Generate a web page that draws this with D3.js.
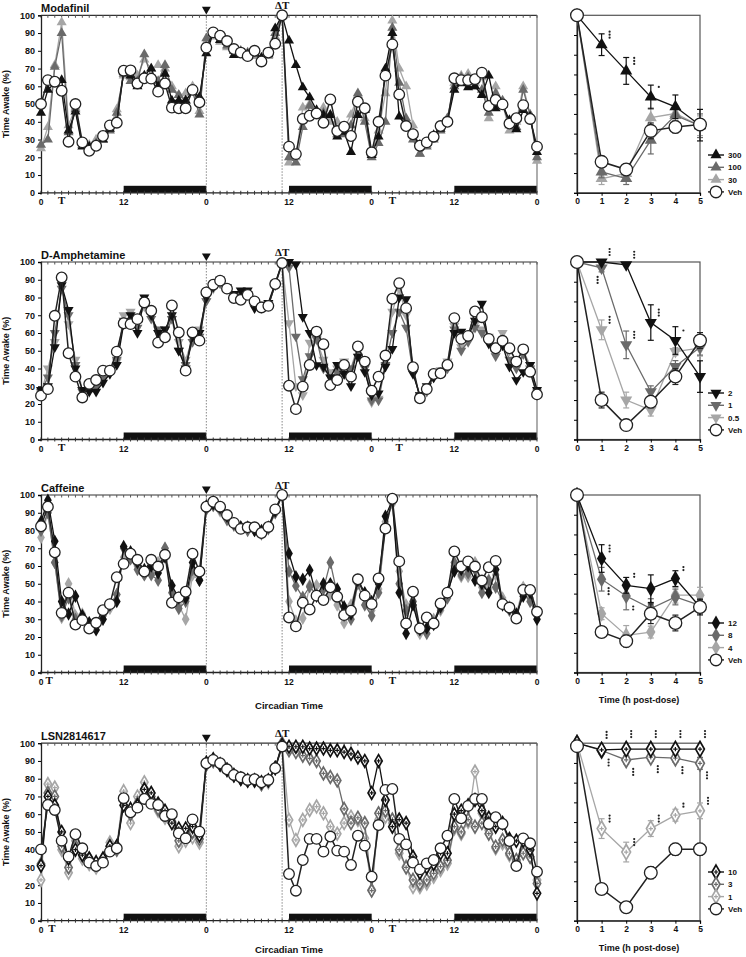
<!DOCTYPE html>
<html>
<head>
<meta charset="utf-8">
<style>
body { margin: 0; background: #fff; }
svg text { font-family: "Liberation Sans", Arial, sans-serif; font-weight: bold; fill: #111; }
svg text.serif { font-family: "Liberation Serif", "Times New Roman", serif; }
</style>
</head>
<body>
<script src="https://d3js.org/d3.v7.min.js"></script>
<script>

// ---------- data ----------
// hourly time courses, hour 0 .. 72
var modVeh = [50,63.5,62.6,57.5,28.8,50,28.4,23.7,26.5,32,38,39.5,
  68.8,69,61.6,64.5,64.3,57,61.6,48,47.6,47.6,58,51,
  81.8,90.4,88.5,85.5,81,79,77,80,74,79,84,100,
  26,21.8,41.6,43.4,44.7,39.5,52.6,34.8,37.2,32,51.3,47.6,
  22.8,40,66,83.6,55.4,37.6,33,26.5,28.4,31.6,37.6,40,
  64.5,63.5,63.5,64,67.7,48.9,52.3,49.8,39,42,49.4,41.6,
  26];
var mod300 = [45,58,62,63.5,35,45.7,26,26,27,30,36,40,
  68,66,60,66,70,60,67,52,52,52,57,54,
  78.5,90,86,85,77.6,79,78,79,76,78,92.7,100,
  85.7,72,59.4,53.8,46.6,43.8,43.8,31.6,34.4,23,43.8,46.6,
  21.2,31.6,70,90,43,37.6,33,27,28,32.5,36,40,
  58,61.6,59.4,60,55,66,47.6,49.4,41,35.7,46.6,43,
  23];
var mod100 = [27,30,71,90,34,47,27,25,28,30,35,45,
  67,63,63,78,65,63,72,58,55,52,57,44,
  87,89,86,83,80,80,79,78,76,78,90,100,
  20,17,37,49,44,45,44,33,33,38,56,40,
  20,28,40,93,62,42,30,22,26,30,35,42,
  60,65,65,60,58,45,56,52,38,37,58,44,
  20];
var mod30 = [25,37,72,96,38,48,28,27,30,32,37,47,
  66,65,66,75,70,72,70,60,55,56,60,46,
  85,88,85,82,80,79,78,77,75,77,88,100,
  17,20,48,50,44,48,40,40,36,44,55,42,
  22,35,56,97,70,60,38,22,27,31,37,42,
  62,66,67,62,65,42,60,50,35,40,60,44,
  18];

var ampVeh = [24.7,28.4,69.7,91.3,48.6,35.4,23.7,31.3,33.5,38.8,38.8,49.5,
  65.5,65,67.8,77.2,72.5,54.6,57.6,75.5,60.3,38.8,60.3,55.7,
  82.9,87.2,89.5,85,79.7,78.7,81.5,77.8,74.4,75.3,87.6,99.4,
  30.3,17.1,29.8,42,60.8,53.7,30.7,33.5,42,35.4,52.4,43.9,
  27.5,35.4,47.3,79.3,88.1,74,40.7,23.2,28.4,36.9,37.3,42,
  68.4,56.7,58.4,72.1,68.9,56.7,51.4,55.6,51.4,43.9,50.8,38.2,
  25.4];
var amp2 = [28,30,52,87,73,40,28,27,27,32,37,42,
  65,70,60,80,70,60,62,70,50,40,58,60,
  80,86,90,85,82,84,84,74,76,77,88,99.5,
  100,98.6,69,60,41.9,41,35,42,37,30,46.7,38,
  25,26,41,51,80,79,37,25,30,35,38,42,
  60,60.8,58,67,76.5,54,52,53,41,33.5,38,42,
  28];
var amp1 = [27,35,60,85,70,42,27,28,30,34,38,45,
  67,66,63,78,68,62,58,68,50,42,55,58,
  78,86,88,86,81,82,82,75,75,76,87,99,
  97,58,34,47,56.8,40,35,38,37,40,50,40,
  22,22,42,60,72,63,38,24,27,35,38,40,
  62,50,55,63,60,55,47,55,45,40,48,40,
  25];
var amp05 = [26,40,55,88,65,45,28,30,30,35,40,44,
  70,72,66,75,70,55,62,68,55,45,57,62,
  78,85,88,86,80,80,82,76,74,76,87,99,
  65.6,30,25,54.6,56.3,45,38,40,44,40,53,44,
  21,23,45,72,85,70,38,25,28,37,39,44,
  64,52,57,65,62,58,53,60,50,45,50,42,
  27];

var cafVeh = [82.4,93.4,67.7,33.6,45,27,29.5,24.8,28,35.1,38.5,53.7,
  61.2,66.9,63.5,56.9,63.5,59.7,66.3,39.3,42.3,45.5,66.9,56.9,
  93.4,96.2,93.4,88.7,84.3,80.9,81.8,81.8,78.6,82,91.9,100,
  31,26,39.3,35.5,43.3,40.8,48,42.7,32.3,34.8,52.5,43.3,
  38.5,53,81.1,97.9,62.6,27.6,45.5,24.8,31,27.6,38.9,45,
  68.2,59.7,62.6,59.7,51.8,59.3,62.9,38.5,36.6,30.4,46.5,46.5,
  34.2];
var caf12 = [85,97,74,40,33,43,32,28,24,30,38,40,
  71,68,62,58,60,56,65,49,42,42,62,52,
  94,95,93,88,84,82,82,80,80,82,91,100,
  67,54,52.5,57.6,43,50,50,47,37,33,52,45,
  40,50,88,97,45,22,38,24,25,27,37,45,
  57,58,60,52,50,45,58,38,36,33,43,45,
  30];
var caf8 = [80,90,62,32,42,30,32,27,26,32,38,44,
  70,64,58,55,55,52,70,45,36,40,58,52,
  92,94,92,86,83,82,80,80,78,81,90,100,
  57,48.8,42.4,48.3,44,47,62,44,32,30,50,38,
  32,45,82,96,50,35,40,25,22,28,36,42,
  62,55,56,58,45,52,48,40,35,32,45,40,
  32];
var caf4 = [76,90,62,31,50,32,33,28,27,30,36,44,
  65,64,60,55,57,62,70,40,38,30,55,52,
  92,94,91,87,84,82,81,80,79,81,90,100,
  40,29,30.5,49,49,48,44,38,28,38,52,43,
  35,47,85,95,57,38,40,22,25,30,35,43,
  60,54,54,62,48,47,55,42,37,33,48,42,
  33];

var lsnVeh = [40.2,65.2,62.4,45.1,36.1,48.7,40.8,32.7,30.8,32.7,38.9,40.8,
  69,61.1,63.7,68.6,65.8,65.2,59,60,49.2,46.4,57.1,50.2,
  88.7,90.6,88.7,85.3,82.1,80.8,79.3,79.7,78,79.3,85.9,98.1,
  26.3,16.9,34.2,46.1,46.1,38.9,47.4,39.5,38.9,31.4,47.9,42.3,
  24.8,53.9,73.7,74.2,46.1,43,32.7,28.9,32.3,34.2,40.8,47.9,
  68.6,57.7,64.7,68.6,68.6,54.5,58.3,54.5,44.9,30.8,46.4,43.6,
  27.6];
var lsn10 = [31,70,65,50,35,40,37,35,33,35,42,42,
  65,63,65,74,72,66,62,55,52,52,53,48,
  89,91,88,85,82,80,79,79,78,79,86,99,
  98,98,98,97,97,97,96,96,95,94,92,90,
  72,90,68,53,57,55,36,27,30,32,38,38,
  60,62,65,68,62,58,53,55,46,45,45,40,
  15.4];
var lsn3 = [32,72,70,42,30,42,37,35,32,34,42,40,
  68,60,66,74,70,63,60,56,45,48,50,46,
  88,90,88,85,82,80,79,79,77,79,86,100,
  96,95,93,91.5,90,83,81,79,63,55,58,55,
  17,60.5,62,57,40,30,23,20.7,23,26.7,30.5,34,
  53,50,57,53,55,49,41.7,45.5,38,34.2,38,36,
  21];
var lsn1 = [23,77,75,40,27,45,35,32,30,35,44,42,
  73,55,70,78,72,62,58,55,42,45,47,44,
  88,90,88,85,82,80,79,79,77,78,86,99,
  56.8,45.5,56.8,62.4,64.3,60.5,53,49,55,58.6,56.8,46.4,
  17.3,56.8,58.6,55,38,30.5,19,19,21,24.8,28.6,32.3,
  52,49,55.8,84,60.5,51,40.8,43.6,37,33.3,40,36,
  23];

// post-dose summaries, hours 0..5
var postHours = [0,1,2,3,4,5];
var modPostVeh = [100,25.7,21.8,41.4,43.4,44.6], modSemVeh = [0,2,3,4,3,3];
var modPost300 = [100,85.1,71.8,58.6,53.6,44.3], modSem300 = [0,5.5,6.8,6,6,8];
var modPost100 = [100,20.6,17.2,36.7,49.3,44],   modSem100 = [0,3,3,7,4,6];
var modPost30  = [100,17.2,19.8,48.1,50.2,44],   modSem30  = [0,3,4,5,4,5];

var ampPostVeh = [100,30,17.3,29.1,41.9,60.2],   ampSemVeh = [0,4,2,3,4,4];
var ampPost2   = [100,100,98.6,69.3,60.2,41.9],  ampSem2   = [0,0,0,9,7,8];
var ampPost1   = [100,97,58,34.2,47,56.8],       ampSem1   = [0,2,7,3,3,4];
var ampPost05  = [100,65.6,30,24.9,54.6,56.3],   ampSem05  = [0,5,4,3,2,4];

var cafPostVeh = [100,30.5,25.9,39.8,35.1,43.2], cafSemVeh = [0,2,3,5,4,3];
var cafPost12  = [100,67.8,54.2,52.5,57.6,43.2], cafSem12  = [0,7,4,7,4,4];
var cafPost8   = [100,57.3,48.8,42.4,48.3,44],   cafSem8   = [0,6,7,5,4,3];
var cafPost4   = [100,39.8,28.8,30.5,49.2,49.2], cafSem4   = [0,3,5,3,4,4];

var lsnPostVeh = [98.5,26.1,16.8,34.3,46.2,46.2], lsnSemVeh = [0,1,1,3,3,3];
var lsnPost10  = [100,96.6,97,97,97,97],          lsnSem10  = [0,1,1,1,1,1];
var lsnPost3   = [100,96.3,91.5,92.9,92.4,89.8],  lsnSem3   = [0,2,2,2,2,3];
var lsnPost1   = [100,56.7,44.8,56.7,63.5,65.7],  lsnSem1   = [0,5,5,4,3,4];

// significance marks: [series label, post-dose hour, mark, side]
var modStars = [["300",1,"***","r"],["300",2,"***","r"],["300",3,"*","r"]];
var ampStars = [["2",1,"***","r"],["2",2,"***","r"],["2",3,"***","r"],["2",4,"*","r"],
  ["1",1,"***","bl"],["1",2,"***","r"],["0.5",1,"***","r"]];
var cafStars = [["12",1,"***","r"],["12",2,"**","r"],["12",4,"**","r"],
  ["8",1,"***","br"],["8",2,"**","br"]];
var lsnStars = [["10",1,"***","ar"],["10",2,"***","ar"],["10",3,"***","ar"],["10",4,"***","ar"],["10",5,"***","ar"],
  ["3",1,"***","br"],["3",2,"***","br"],["3",3,"***","br"],["3",4,"***","br"],["3",5,"***","br"],
  ["1",1,"***","r"],["1",2,"***","r"],["1",3,"***","r"],["1",4,"**","r"],["1",5,"***","r"]];

var xTickHours = [0,12,24,36,48,60,72];
var xTickLabels = ["0","12","0","12","0","12","0"];
var yTicks = [0,10,20,30,40,50,60,70,80,90,100];
var darkPeriods = [[12,24],[36,48],[60,72]];
var doseHour = 24, shiftHour = 35;

// ---------- drawing ----------
var BLACK = "#111", DARK = "#6a6a6a", LIGHT = "#a6a6a6";
var hours = d3.range(0, 73);

var panels = [
  {title: "Modafinil", top: 15.3, shape: "tri", tHours: [3, 51], legendTop: 155, stars: modStars,
   series: [
     {label: "300", color: BLACK, main: mod300, post: modPost300, sem: modSem300},
     {label: "100", color: DARK, main: mod100, post: modPost100, sem: modSem100},
     {label: "30", color: LIGHT, main: mod30, post: modPost30, sem: modSem30},
     {label: "Veh", veh: true, main: modVeh, post: modPostVeh, sem: modSemVeh}]},
  {title: "D-Amphetamine", top: 262, shape: "inv", tHours: [3, 52], legendTop: 393, stars: ampStars,
   series: [
     {label: "2", color: BLACK, main: amp2, post: ampPost2, sem: ampSem2},
     {label: "1", color: DARK, main: amp1, post: ampPost1, sem: ampSem1},
     {label: "0.5", color: LIGHT, main: amp05, post: ampPost05, sem: ampSem05},
     {label: "Veh", veh: true, main: ampVeh, post: ampPostVeh, sem: ampSemVeh}]},
  {title: "Caffeine", top: 495, shape: "dia", tHours: [1.2, 51], legendTop: 623, stars: cafStars, xlabels: 36,
   series: [
     {label: "12", color: BLACK, main: caf12, post: cafPost12, sem: cafSem12},
     {label: "8", color: DARK, main: caf8, post: cafPost8, sem: cafSem8},
     {label: "4", color: LIGHT, main: caf4, post: cafPost4, sem: cafSem4},
     {label: "Veh", veh: true, main: cafVeh, post: cafPostVeh, sem: cafSemVeh}]},
  {title: "LSN2814617", top: 743.2, shape: "hdia", tHours: [1.6, 51], legendTop: 872, stars: lsnStars, xlabels: 32,
   series: [
     {label: "10", color: BLACK, main: lsn10, post: lsnPost10, sem: lsnSem10},
     {label: "3", color: DARK, main: lsn3, post: lsnPost3, sem: lsnSem3},
     {label: "1", color: LIGHT, main: lsn1, post: lsnPost1, sem: lsnSem1},
     {label: "Veh", veh: true, main: lsnVeh, post: lsnPostVeh, sem: lsnSemVeh}]}
];

var panelH = 177.5;
var xMain = d3.scaleLinear().domain([0, 72]).range([41, 537]);
var xPost = d3.scaleLinear().domain([0, 5]).range([577, 700]);

var svg = d3.select("body").append("svg")
    .attr("width", 746)
    .attr("height", 957);

svg.append("rect").attr("width", 746).attr("height", 957).attr("fill", "#fff");

// marker helper: draws one symbol into each element of sel
function addMarker(sel, shape, color, k) {
  if (shape === "circle") {
    sel.append("circle").attr("r", 5.3 * k).attr("fill", "#fff")
      .attr("stroke", "#222").attr("stroke-width", 1.3);
  } else if (shape === "tri" || shape === "inv") {
    sel.append("path")
      .attr("d", d3.symbol(d3.symbolTriangle, 44 * k * k)())
      .attr("transform", shape === "inv" ? "rotate(180)" : null)
      .attr("fill", color);
  } else if (shape === "dia") {
    sel.append("path").attr("d", d3.symbol(d3.symbolDiamond, 52 * k * k)()).attr("fill", color);
  } else {
    sel.append("path").attr("d", d3.symbol(d3.symbolDiamond, 46 * k * k)())
      .attr("fill", "#fff").attr("stroke", color).attr("stroke-width", 1.7);
    sel.append("path").attr("d", "M-2.2,0H2.2M0,-2.2V2.2")
      .attr("stroke", color).attr("stroke-width", 1.2);
  }
}

function drawSeries(g, xs, ys, xv, s, shape, k) {
  var col = s.veh ? "#222" : s.color;
  var vals = xs === xMain ? s.main : s.post;
  var line = d3.line().x(function(d, i) { return xs(xv[i]); }).y(function(d) { return ys(d); });
  g.append("path").datum(vals)
    .attr("d", line)
    .attr("fill", "none")
    .attr("stroke", col)
    .attr("stroke-width", s.veh ? 1.5 : 1.3);
  var pts = g.append("g").selectAll("g").data(vals).join("g")
    .attr("transform", function(d, i) { return "translate(" + xs(xv[i]) + "," + ys(d) + ")"; });
  addMarker(pts, s.veh ? "circle" : shape, col, k);
}

panels.forEach(function(p) {
  var top = p.top, bottom = p.top + panelH;
  var y = d3.scaleLinear().domain([0, 100]).range([bottom, top]);
  var g = svg.append("g");

  // dark phase bars
  g.selectAll("rect.night").data(darkPeriods).join("rect")
    .attr("x", function(d) { return xMain(d[0]); })
    .attr("width", function(d) { return xMain(d[1]) - xMain(d[0]); })
    .attr("y", bottom - 7).attr("height", 7)
    .attr("fill", "#111");

  // dotted reference lines
  [doseHour, shiftHour].forEach(function(h) {
    g.append("line").attr("x1", xMain(h)).attr("x2", xMain(h))
      .attr("y1", top).attr("y2", bottom)
      .attr("stroke", "#888").attr("stroke-width", 1).attr("stroke-dasharray", "1.5,1.5");
  });

  // frame: top and right
  g.append("line").attr("x1", xMain(0)).attr("x2", xMain(72)).attr("y1", top).attr("y2", top)
    .attr("stroke", "#333").attr("stroke-width", 1.2);
  g.append("line").attr("x1", xMain(72)).attr("x2", xMain(72)).attr("y1", top).attr("y2", bottom)
    .attr("stroke", "#777").attr("stroke-width", 1.2);
  g.selectAll("line.tt").data(hours).join("line")
    .attr("x1", function(d) { return xMain(d); }).attr("x2", function(d) { return xMain(d); })
    .attr("y1", top).attr("y2", top + 2.5)
    .attr("stroke", "#555").attr("stroke-width", 1);

  // bottom axis with hourly ticks
  g.append("line").attr("x1", xMain(0)).attr("x2", xMain(72)).attr("y1", bottom).attr("y2", bottom)
    .attr("stroke", "#222").attr("stroke-width", 1.3);
  g.selectAll("line.bt").data(hours).join("line")
    .attr("x1", function(d) { return xMain(d); }).attr("x2", function(d) { return xMain(d); })
    .attr("y1", bottom - 2).attr("y2", bottom + 2)
    .attr("stroke", "#333").attr("stroke-width", 1);
  g.selectAll("text.xl").data(xTickHours).join("text")
    .attr("x", function(d) { return xMain(d); })
    .attr("y", bottom + 12)
    .attr("text-anchor", "middle")
    .style("font-size", "8.5px")
    .text(function(d, i) { return xTickLabels[i]; });
  g.selectAll("text.tl").data(p.tHours).join("text")
    .attr("class", "serif")
    .attr("x", function(d) { return xMain(d); })
    .attr("y", bottom + 11)
    .attr("text-anchor", "middle")
    .style("font-size", "11px")
    .text("T");

  // left axis
  var yAxis = d3.axisLeft(y).tickValues(yTicks).tickSize(3).tickPadding(3).tickFormat(d3.format("d"));
  var ya = g.append("g").attr("transform", "translate(" + xMain(0) + ",0)").call(yAxis);
  ya.select(".domain").attr("stroke", "#222").attr("stroke-width", 1.3);
  ya.selectAll("text").style("font-size", "9px").style("font-family", "Liberation Sans, Arial, sans-serif").style("font-weight", "bold").attr("fill", "#111");

  g.append("text")
    .attr("transform", "translate(9," + (top + panelH / 2) + ") rotate(-90)")
    .attr("text-anchor", "middle")
    .style("font-size", "9px")
    .text("Time Awake (%)");

  // title, dose mark, shift mark
  g.append("text").attr("x", 41).attr("y", top - 3.5).style("font-size", "11px").text(p.title);
  g.append("path").attr("d", d3.symbol(d3.symbolTriangle, 34)())
    .attr("transform", "translate(" + xMain(doseHour) + "," + (top - 6) + ") rotate(180)")
    .attr("fill", "#111");
  g.append("text").attr("class", "serif")
    .attr("x", xMain(shiftHour)).attr("y", top - 6.5)
    .attr("text-anchor", "middle").style("font-size", "11px").text("\u0394T");

  // series: light -> dark -> black -> vehicle
  [2, 1, 0, 3].forEach(function(i) {
    drawSeries(g, xMain, y, hours, p.series[i], p.shape, 1);
  });

  if (p.xlabels) {
    g.append("text").attr("x", 289).attr("y", bottom + p.xlabels)
      .attr("text-anchor", "middle").style("font-size", "9.5px").text("Circadian Time");
  }

  // ---------- post-dose panel ----------
  var yp = d3.scaleLinear().domain([10, 100]).range([bottom, top]);
  var sg = svg.append("g");
  sg.append("rect").attr("x", xPost(0)).attr("y", top)
    .attr("width", xPost(5) - xPost(0)).attr("height", panelH)
    .attr("fill", "none").attr("stroke", "#555").attr("stroke-width", 1.2);
  var pya = sg.append("g").attr("transform", "translate(" + xPost(0) + ",0)")
    .call(d3.axisLeft(yp).tickValues(yTicks.slice(1)).tickSize(3).tickFormat(""));
  pya.select(".domain").attr("stroke", "#222").attr("stroke-width", 1.3);
  var pxa = sg.append("g").attr("transform", "translate(0," + bottom + ")")
    .call(d3.axisBottom(xPost).tickValues(postHours).tickSize(3).tickPadding(2).tickFormat(d3.format("d")));
  pxa.select(".domain").attr("stroke", "#222").attr("stroke-width", 1.3);
  pxa.selectAll("text").style("font-size", "8.5px").style("font-family", "Liberation Sans, Arial, sans-serif").style("font-weight", "bold").attr("fill", "#111");
  if (p.xlabels) {
    sg.append("text").attr("x", 639).attr("y", bottom + 30)
      .attr("text-anchor", "middle").style("font-size", "9px").text("Time (h post-dose)");
  }

  // error bars then series
  [2, 1, 0, 3].forEach(function(i) {
    var s = p.series[i];
    var col = s.veh ? "#222" : s.color;
    var eb = sg.append("g").selectAll("g").data(s.post).join("g")
      .attr("transform", function(d, j) { return "translate(" + xPost(postHours[j]) + ",0)"; });
    eb.append("line")
      .attr("y1", function(d, j) { return yp(Math.min(100, d + s.sem[j])); })
      .attr("y2", function(d, j) { return yp(d - s.sem[j]); })
      .attr("stroke", col).attr("stroke-width", 1.2);
    eb.append("line").attr("x1", -3).attr("x2", 3)
      .attr("y1", function(d, j) { return yp(Math.min(100, d + s.sem[j])); })
      .attr("y2", function(d, j) { return yp(Math.min(100, d + s.sem[j])); })
      .attr("stroke", col).attr("stroke-width", 1.2);
    eb.append("line").attr("x1", -3).attr("x2", 3)
      .attr("y1", function(d, j) { return yp(d - s.sem[j]); })
      .attr("y2", function(d, j) { return yp(d - s.sem[j]); })
      .attr("stroke", col).attr("stroke-width", 1.2);
    drawSeries(sg, xPost, yp, postHours, s, p.shape, 1.2);
  });

  // significance marks
  var offs = {r: [8, -10], br: [7, 12], bl: [-4, 12], ar: [5, -15]};
  p.stars.forEach(function(st) {
    var s = p.series.filter(function(q) { return q.label === st[0]; })[0];
    var cx = xPost(st[1]) + offs[st[3]][0];
    var cy = yp(s.post[st[1]]) + offs[st[3]][1];
    var n = st[2].length;
    for (var k = 0; k < n; k++) {
      sg.append("circle").attr("cx", cx).attr("cy", cy + (k - (n - 1) / 2) * 3)
        .attr("r", 1.1).attr("fill", "#222");
    }
  });

  // legend
  p.series.forEach(function(s, i) {
    var ly = p.legendTop + i * 12.3;
    var col = s.veh ? "#222" : s.color;
    var lg = svg.append("g").attr("transform", "translate(716," + ly + ")");
    lg.append("line").attr("x1", -8).attr("x2", 8).attr("stroke", col).attr("stroke-width", 1.4);
    addMarker(lg, s.veh ? "circle" : p.shape, col, 1.1);
    lg.append("text").attr("x", 12).attr("y", 3).style("font-size", "8px").text(s.label);
  });
});

</script>
</body>
</html>
